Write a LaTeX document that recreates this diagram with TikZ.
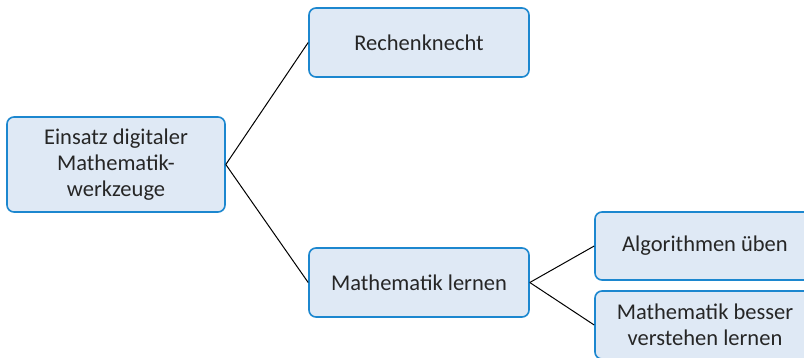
\documentclass[tikz,border=0pt]{standalone}
\usepackage{fontspec}
\setmainfont{Carlito}
\definecolor{boxborder}{HTML}{1C87CF}
\definecolor{boxfill}{HTML}{DFE9F5}
\definecolor{txt}{HTML}{262626}
\begin{document}
\begin{tikzpicture}[x=1pt,y=-1pt,
  mbox/.style={draw=boxborder, fill=boxfill, line width=1.6pt, rounded corners=7pt,
    align=center, text=txt, inner sep=0pt,
    font=\fontsize{22.5}{26}\selectfont},
  conn/.style={draw=black, line width=1pt}]
\useasboundingbox (0,0) rectangle (804,357);
\clip (0,0) rectangle (804,357);
\fill[white] (0,0) rectangle (804,357);
\node[mbox, minimum width=218pt, minimum height=95pt] (A) at (116,164.5) {Einsatz digitaler\\Mathematik-\\werkzeuge};
\node[mbox, minimum width=220pt, minimum height=69pt] (B) at (419,42.5) {Rechenknecht};
\node[mbox, minimum width=220pt, minimum height=69pt] (C) at (419,282.5) {Mathematik lernen};
\node[mbox, minimum width=220pt, minimum height=68pt] (D) at (705,246) {Algorithmen üben};
\node[mbox, minimum width=220pt, minimum height=68pt] (E) at (705,325) {Mathematik besser\\verstehen lernen};
\draw[conn] (A.east) -- (B.west);
\draw[conn] (A.east) -- (C.west);
\draw[conn] (C.east) -- (D.west);
\draw[conn] (C.east) -- (E.west);
\end{tikzpicture}
\end{document}
